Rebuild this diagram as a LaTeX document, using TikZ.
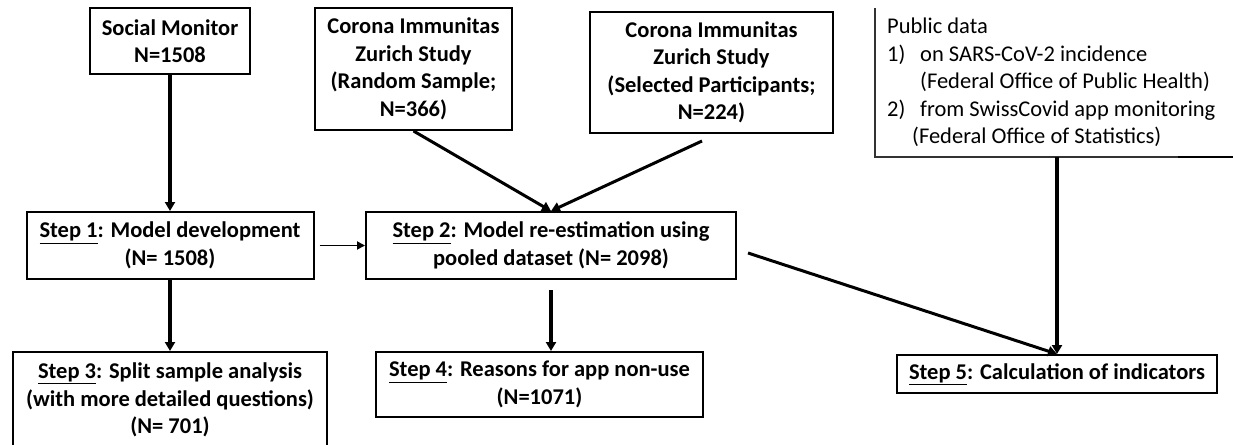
\documentclass[tikz,border=0pt]{standalone}
\usepackage{fontspec}
\setmainfont{Carlito}
\usepackage{tikz}
\usetikzlibrary{positioning, calc, arrows.meta}

\begin{document}
\begin{tikzpicture}[x=1pt, y=-1pt]
	
	\tikzstyle{stepbox}=[rectangle, draw=black, line width=2pt, align=center, inner sep=0pt, font=\fontsize{22.5}{27.5}\selectfont\bfseries]
	\tikzstyle{flow}=[line width=3.5pt, -{Triangle[length=9pt, width=10pt]}]
	\tikzstyle{thinflow}=[line width=1.8pt, -{Triangle[length=8pt, width=8pt]}]
	%%	\tikzstyle{publine}=[line width=1.2pt, draw=black!80]
	
	\useasboundingbox (0,0) rectangle (1233,444);
	
	% data sources
	\node (sm) at (170,41) [stepbox, minimum width=160, minimum height=66] {Social Monitor\\N=1508};
	\node (rand) at (413.5,69) [stepbox, minimum width=197, minimum height=122] {Corona Immunitas\\Zurich Study\\(Random Sample;\\N=366)};
	\node (sel) at (711.5,72.5) [stepbox, minimum width=243, minimum height=121] {Corona Immunitas\\Zurich Study\\(Selected Participants;\\N=224)};
	
	\node (pub) at (887,18) [anchor=north west, inner sep=0pt, align=left, font=\fontsize{22.5}{27.5}\selectfont] {Public data\\
		\makebox[33pt][l]{1)}on SARS-CoV-2 incidence\\
		\hspace*{33pt}(Federal Office of Public Health)\\
		\makebox[33pt][l]{2)}from SwissCovid app monitoring\\
		\hspace*{25pt}(Federal Office of Statistics)};
	\coordinate (pubtl) at (875,8);
	\coordinate (pubbl) at (875,157);
	\coordinate (pubbr) at (1233,157);
	
	% steps
	\node (s1) at (170,245.5) [stepbox, minimum width=287, minimum height=67] {\underline{Step 1}: Model development\\(N= 1508)};
	\node (s2) at (551,245.5) [stepbox, minimum width=370, minimum height=67] {\underline{Step 2}: Model re-estimation using\\pooled dataset (N= 2098)};
	\node (s3) at (170,400) [stepbox, minimum width=314, minimum height=96] {\underline{Step 3}: Split sample analysis\\(with more detailed questions)\\(N= 701)};
	\node (s4) at (539.5,384.5) [stepbox, minimum width=327, minimum height=65] {\underline{Step 4}: Reasons for app non-use\\(N=1071)};
	\node (s5) at (1057,374) [stepbox, minimum width=320, minimum height=38] {\underline{Step 5}: Calculation of indicators};
	
	\coordinate (selout) at (702,141);
	\coordinate (s2out) at (748,253);
	
	
	\draw [line width=1.2pt, black!80] (pubtl) -- (pubbl) -- (pubbr);
	\draw [line width=2pt] (1178,157) -- (pubbr);
	
	\draw [flow] (sm) -- (s1);
	\draw [flow] (s1) -- (s3);
	\draw [thinflow, shorten <=5pt] (s1) -- (s2);
	
	\draw [flow, line width=3pt] (rand.south) -- (s2.north);
	\draw [flow, line width=3pt] (selout) -- (s2.north);
	
	\draw [flow, shorten <=10pt] (s2.south) -- (s2.south |- s4.north);
	
	\draw [flow, line width=3pt] (s2out) -- (s5.north);
	\draw [flow] (pubbl -| s5.north) -- (s5.north);
	
\end{tikzpicture}
\end{document}
